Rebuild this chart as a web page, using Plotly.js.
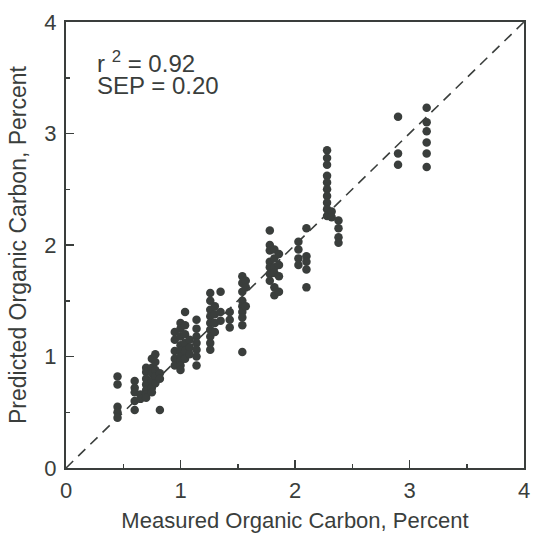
<!DOCTYPE html>
<html><head><meta charset="utf-8">
<script src="https://cdn.plot.ly/plotly-3.0.1.min.js"></script>
<style>html,body{margin:0;padding:0;background:#fff;}</style>
</head><body><div id="chart" style="width:533px;height:535px;"></div>
<script>
// Measured organic carbon (%) grouped in columns with their predicted values
const columns = [
  [0.45, [0.82, 0.75, 0.55, 0.50, 0.45]],
  [0.60, [0.78, 0.72, 0.68, 0.60, 0.52]],
  [0.65, [0.66, 0.62]],
  [0.70, [0.90, 0.86, 0.80, 0.75, 0.70, 0.66, 0.63]],
  [0.75, [0.98, 0.90, 0.85, 0.78, 0.72, 0.68]],
  [0.78, [1.02, 0.95, 0.88, 0.82, 0.76]],
  [0.82, [0.85, 0.80, 0.52]],
  [0.95, [1.22, 1.15, 1.05, 0.98, 0.92]],
  [1.00, [1.30, 1.25, 1.18, 1.10, 1.05, 1.00, 0.96, 0.92, 0.88]],
  [1.04, [1.40, 1.28, 1.20, 1.12, 1.05, 0.98]],
  [1.08, [1.15, 1.08, 1.02]],
  [1.14, [1.33, 1.25, 1.18, 1.12, 1.06, 1.00, 0.92]],
  [1.26, [1.57, 1.50, 1.42, 1.36, 1.30, 1.24, 1.18, 1.12, 1.06]],
  [1.30, [1.45, 1.38, 1.30, 1.22]],
  [1.35, [1.58, 1.40, 1.32]],
  [1.43, [1.40, 1.33, 1.26]],
  [1.54, [1.72, 1.66, 1.58, 1.50, 1.45, 1.40, 1.35, 1.28, 1.04]],
  [1.57, [1.68, 1.62, 1.45]],
  [1.78, [2.13, 2.00, 1.95, 1.85, 1.80, 1.74, 1.68]],
  [1.82, [1.96, 1.88, 1.80, 1.75, 1.62, 1.55]],
  [1.86, [1.92, 1.82, 1.72, 1.58]],
  [2.03, [2.03, 1.96, 1.88, 1.82]],
  [2.10, [2.15, 1.90, 1.85, 1.78, 1.62]],
  [2.28, [2.85, 2.78, 2.72, 2.62, 2.56, 2.50, 2.44, 2.38, 2.32, 2.26]],
  [2.32, [2.30, 2.25]],
  [2.38, [2.22, 2.15, 2.07, 2.02]],
  [2.90, [3.15, 2.82, 2.72]],
  [3.15, [3.23, 3.10, 3.02, 2.92, 2.82, 2.70]]
];
const measured = [];
const predicted = [];
columns.forEach(([m, ps]) => ps.forEach(p => { measured.push(m); predicted.push(p); }));

const lineX = [0, 4];
const lineY = [0, 4];
const xTicks = [0, 1, 2, 3, 4];
const yTicks = [0, 1, 2, 3, 4];
const statTexts = ['r <sup>2</sup> = 0.92', 'SEP = 0.20'];

const ink = '#3a3e3c';
const font = 'Liberation Sans, Arial, sans-serif';

const traces = [
  {x: lineX, y: lineY, mode: 'lines', line: {color: ink, width: 1.6, dash: '10px,7px'}, hoverinfo: 'skip'},
  {x: measured, y: predicted, mode: 'markers', marker: {color: ink, size: 8.5, line: {width: 0}}}
];

const axisCommon = {
  range: [0, 4], showgrid: false, zeroline: false, automargin: false,
  showline: true, mirror: true, linecolor: ink, linewidth: 2,
  ticks: 'inside', ticklen: 8, tickwidth: 1.5, tickcolor: ink,
  tickmode: 'array',
  minor: {dtick: 0.5, ticks: 'inside', ticklen: 4, tickwidth: 1.5, tickcolor: ink, showgrid: false},
  tickfont: {family: font, size: 22, color: ink}
};

const layout = {
  width: 533, height: 535,
  margin: {l: 66, r: 9, t: 22, b: 67},
  paper_bgcolor: '#fff', plot_bgcolor: '#fff',
  showlegend: false,
  xaxis: Object.assign({}, axisCommon, {
    tickvals: xTicks, ticktext: xTicks.map(String), ticklabelstandoff: 2,
    title: {text: 'Measured Organic Carbon, Percent', font: {family: font, size: 22, color: ink}, standoff: 10}
  }),
  yaxis: Object.assign({}, axisCommon, {
    tickvals: yTicks, ticktext: yTicks.map(String), ticklabelstandoff: 3,
    title: {text: 'Predicted Organic Carbon, Percent', font: {family: font, size: 23, color: ink}, standoff: 11}
  }),
  annotations: statTexts.map((t, i) => ({
    x: 0.25, y: 3.64 - i * 0.21, xref: 'x', yref: 'y', xanchor: 'left', yanchor: 'middle',
    text: t, align: 'left', showarrow: false,
    font: {family: font, size: 24, color: ink}
  }))
};

Plotly.newPlot('chart', traces, layout, {displayModeBar: false, staticPlot: true});
</script></body></html>
